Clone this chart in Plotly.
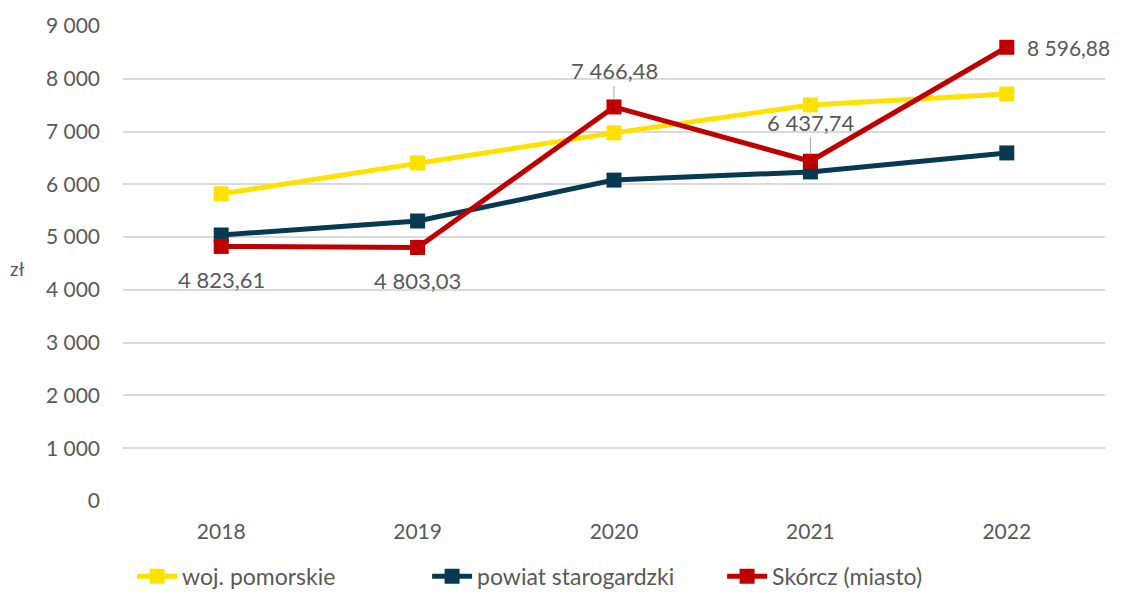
"""Average wage chart: woj. pomorskie vs powiat starogardzki vs Skórcz."""

import plotly.graph_objects as go

years = ["2018", "2019", "2020", "2021", "2022"]
pomorskie = [5820, 6405, 6975, 7505, 7710]
starogardzki = [5040, 5305, 6080, 6235, 6595]
skorcz = [4823.61, 4803.03, 7466.48, 6437.74, 8596.88]

y_ticks = list(range(0, 9001, 1000))
y_tick_text = [f"{v:,}".replace(",", " ") for v in y_ticks]

GREY = "#595959"
FONT = "Lato, 'Century Gothic', sans-serif"


def pl_number(v: float) -> str:
    return f"{v:,.2f}".replace(",", " ").replace(".", ",")


series = [
    ("woj. pomorskie", pomorskie, "#FFE100"),
    ("powiat starogardzki", starogardzki, "#073A52"),
    ("Skórcz (miasto)", skorcz, "#C00000"),
]

fig = go.Figure()
for name, vals, color in series:
    fig.add_trace(
        go.Scatter(
            x=years,
            y=vals,
            name=name,
            mode="lines+markers",
            line=dict(color=color, width=5),
            marker=dict(symbol="square", size=15, color=color),
        )
    )

# data labels for the Skórcz series: (xshift, yshift, leader line)
# category axis -> annotations placed by category index
label_offsets = [(0, -33, False), (0, -33, False), (0, -36, True), (0, -39, True), (18, 0, False)]
for i, (y, (dx, dy, arrow)) in enumerate(zip(skorcz, label_offsets)):
    if arrow:
        fig.add_annotation(
            x=i, y=y, text=pl_number(y), showarrow=True, arrowhead=0,
            arrowcolor="#A6A6A6", arrowwidth=1, ax=dx, ay=dy, standoff=8,
            font=dict(size=22, color=GREY, family=FONT),
        )
    else:
        fig.add_annotation(
            x=i, y=y, text=pl_number(y), showarrow=False, xshift=dx, yshift=dy,
            xanchor="left" if dx else "center",
            font=dict(size=22 if not dx else 21, color=GREY, family=FONT),
        )

fig.add_annotation(
    text="zł", xref="paper", yref="paper", x=-0.107, xanchor="center",
    y=0.49, yanchor="middle", showarrow=False,
    font=dict(size=19, color=GREY, family=FONT),
)

fig.update_layout(
    template="none",
    width=1108,
    height=581,
    margin=dict(l=115, r=11, t=18, b=88),
    plot_bgcolor="white",
    paper_bgcolor="white",
    font=dict(family=FONT, color=GREY, size=21),
    showlegend=True,
    legend=dict(
        orientation="h", xref="container", yref="container",
        x=0.112, xanchor="left", y=0.022, yanchor="middle",
        font=dict(size=23, color=GREY), itemwidth=40, traceorder="normal",
        entrywidth=240,
    ),
    xaxis=dict(type="category", showgrid=False, zeroline=False, ticks="",
               showline=False, automargin=False, tickfont=dict(size=21),
               range=[-0.5, 4.5], ticklabelstandoff=16),
    yaxis=dict(
        range=[0, 9000], tickvals=y_ticks, ticktext=y_tick_text,
        gridcolor="#D9D9D9", gridwidth=1.5, zeroline=False, ticks="",
        showline=False, automargin=False,
        tickfont=dict(size=21), ticklabelstandoff=22,
    ),
)

fig.write_html("out.html")
